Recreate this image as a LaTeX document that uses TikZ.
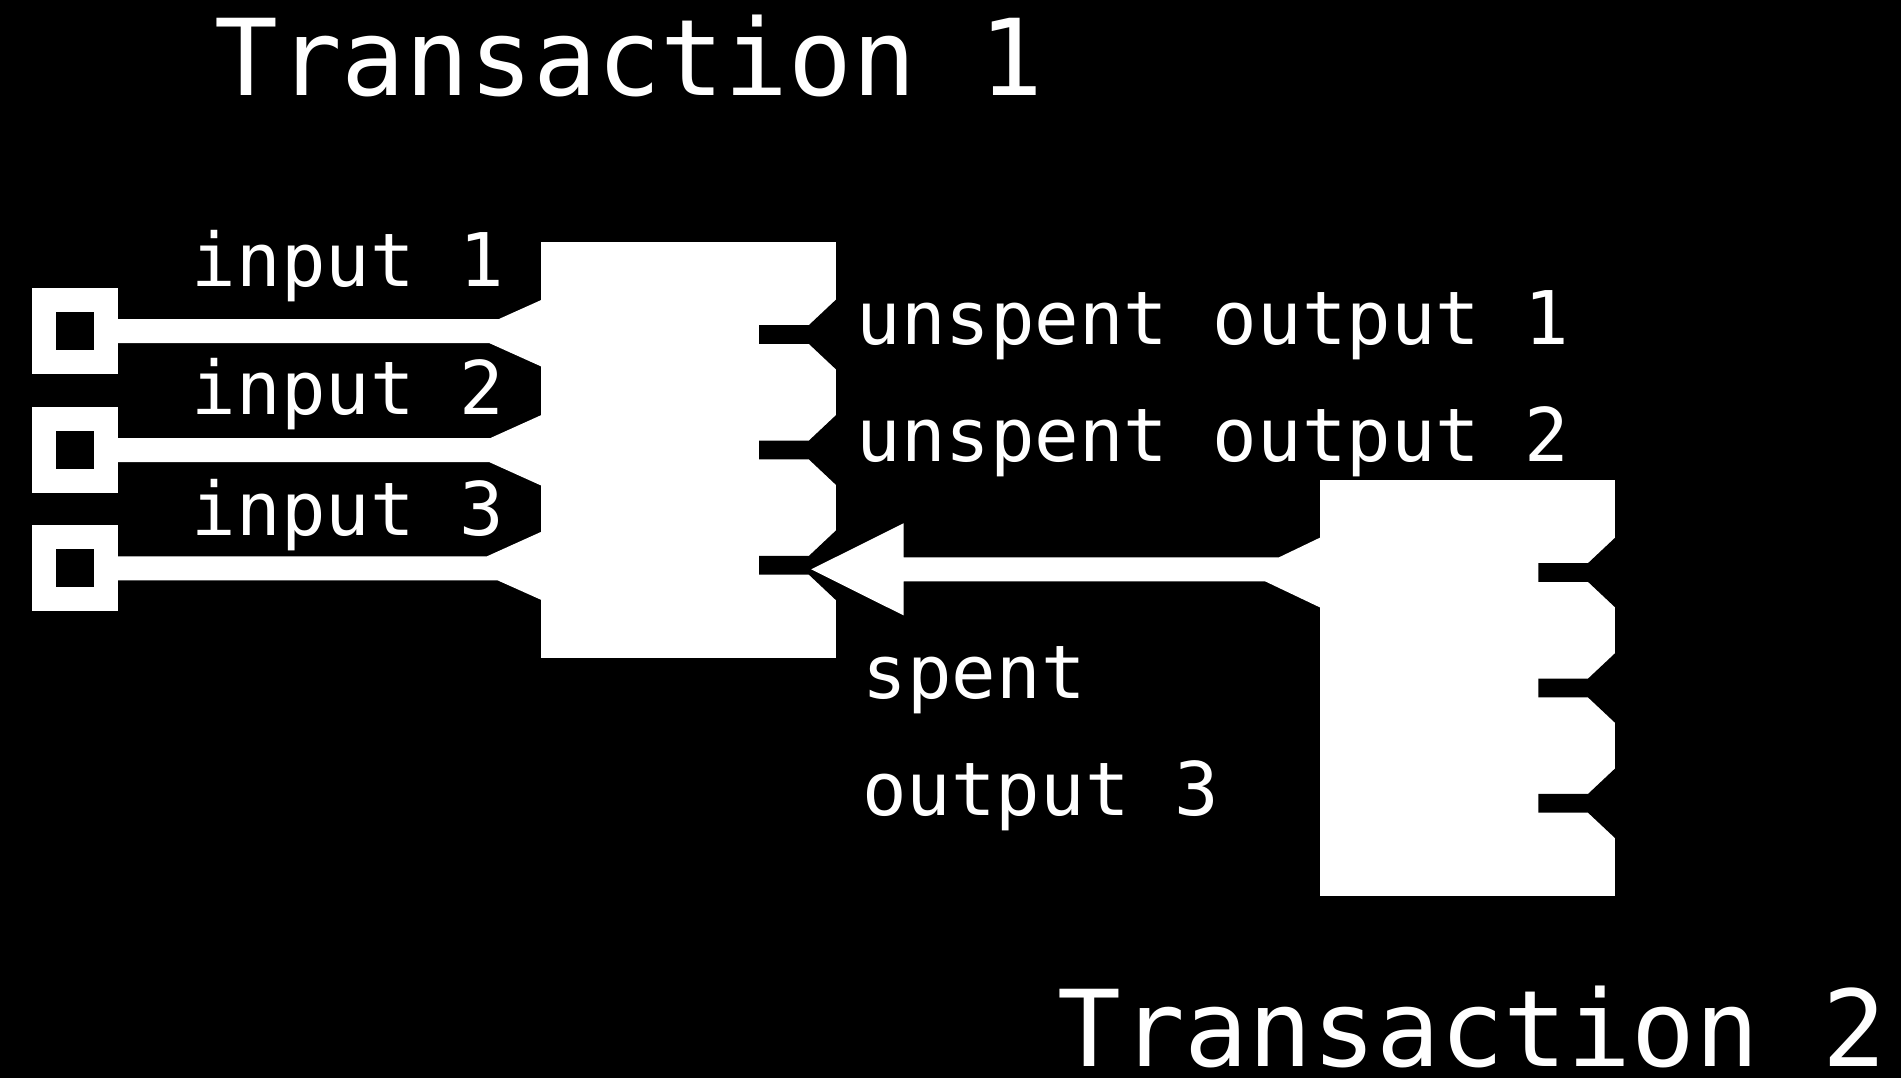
\documentclass[tikz,border=0pt]{standalone}
\usepackage{fontspec}
\newfontfamily\monolabel{DejaVu Sans Mono}
\usetikzlibrary{calc}

\tikzset{
  txbox/.style={fill=white, inner sep=0pt, minimum width=295.3pt, minimum height=415.7pt},
  inport/.style={draw=white, line width=24pt, fill=black, inner sep=0pt, minimum size=62pt},
  wirefill/.style={fill=white},
  outnotch/.style={fill=black},
  lbl/.style={text=white, inner sep=0pt, anchor=base, font=\monolabel\fontsize{74}{80}\selectfont},
  txtitle/.style={text=white, inner sep=0pt, anchor=base, text depth=0pt, font=\monolabel\fontsize{106}{110}\selectfont},
}

\begin{document}
\begin{tikzpicture}[x=1pt,y=-1pt]
  % canvas
  \fill[black] (0,0) rectangle (1901,1078);
  \useasboundingbox (0,0) rectangle (1901,1078);

  % transaction bodies
  \node[txbox] (tx1) at (688.35,449.85) {};
  \node[txbox] (tx2) at (1467.5,687.85) {};

  % input ports of transaction 1
  \node[inport] (p1) at (75,331.2) {};
  \node[inport] (p2) at (75,450) {};
  \node[inport] (p3) at (75,568.3) {};

  % input wires, flaring into the left side of the body
  \foreach \p/\a/\b/\xa/\xb in {p1/31.3/35.4/42/51, p2/35/35.7/50/51.5, p3/36.6/31.7/53.5/43}{
    \fill[wirefill] ($(\p.east)+(0,-12)$)
      -- ($(tx1.west |- \p)+(-\xa,-12)$)
      -- ($(tx1.west |- \p)+(1,-\a)$)
      -- ($(tx1.west |- \p)+(1,\b)$)
      -- ($(tx1.west |- \p)+(-\xb,12)$)
      -- ($(\p.east)+(0,12)$) -- cycle;
  }

  % output slots on the right side of both bodies
  \foreach \t in {tx1,tx2}{
    \foreach \k/\dy in {1/-115.35, 2/0.15, 3/115.45}{
      \coordinate (\t o\k) at ($(\t.east)+(0,\dy)$);
      \fill[outnotch] ($(\t o\k)+(1,-36)$)
        -- ($(\t o\k)+(-27.3,-9.4)$)
        -- ($(\t o\k)+(-77,-9.4)$)
        -- ($(\t o\k)+(-77,9.4)$)
        -- ($(\t o\k)+(-27.3,9.4)$)
        -- ($(\t o\k)+(1,36)$) -- cycle;
    }
  }

  % transaction 2 spends output 3 of transaction 1
  \coordinate (in2) at ($(tx2.west)+(0,-118.5)$);
  \coordinate (tip) at ($(tx1o3 |- in2)+(-25,0)$);
  \fill[wirefill] (tip)
    -- ($(tip)+(92.3,-46)$)
    -- ($(tip)+(92.3,-12)$)
    -- ($(in2)+(-40.7,-12)$)
    -- ($(in2)+(1,-32)$)
    -- ($(in2)+(1,38.4)$)
    -- ($(in2)+(-54.5,12)$)
    -- ($(tip)+(92.3,12)$)
    -- ($(tip)+(92.3,46)$) -- cycle;

  % labels
  \node[lbl] (lin1) at (347.9,286) {input 1};
  \node[lbl] (lin2) at (347.9,414) {input 2};
  \node[lbl] (lin3) at (347.9,535) {input 3};
  \node[lbl] (lout1) at (1213,344) {unspent output 1};
  \node[lbl] (lout2) at (1213,461.5) {unspent output 2};
  \node[lbl] (lspent) at (974.2,698.3) {spent};
  \node[lbl] (lout3) at (1040.5,815) {output 3};

  % titles
  \node[txtitle] (title1) at (629,96) {Transaction 1};
  \node[txtitle] (title2) at (1472,1066.7) {Transaction 2};
\end{tikzpicture}
\end{document}
